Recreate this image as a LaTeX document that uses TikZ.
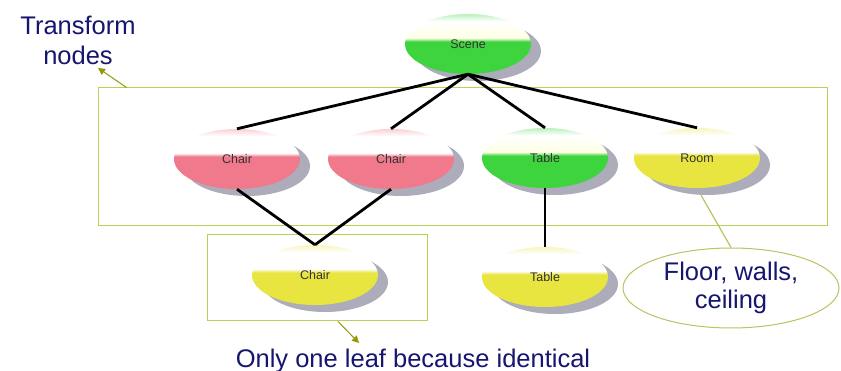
\documentclass[tikz,border=0pt]{standalone}
\usepackage{fontspec}
\setmainfont{Liberation Sans}
\usetikzlibrary{shapes.geometric,shadows,arrows.meta}

\definecolor{ovpink}{RGB}{240,122,140}
\definecolor{ovgreen}{RGB}{62,212,62}
\definecolor{ovyellow}{RGB}{232,228,64}
\definecolor{boxgreen}{RGB}{182,212,84}
\definecolor{notenavy}{RGB}{22,22,112}
\definecolor{pointolive}{RGB}{150,150,10}
\definecolor{calloutedge}{RGB}{192,192,96}
\definecolor{shadowgrey}{RGB}{172,172,186}

\pgfdeclareverticalshading{pinkoval}{100bp}{color(0bp)=(ovpink); color(52bp)=(ovpink); color(55bp)=(white); color(69bp)=(white); color(75bp)=(ovpink!35); color(100bp)=(ovpink!35)}
\pgfdeclareverticalshading{greenoval}{100bp}{color(0bp)=(ovgreen); color(52bp)=(ovgreen); color(55bp)=(white!90!yellow); color(69bp)=(white); color(75bp)=(ovgreen!35); color(100bp)=(ovgreen!35)}
\pgfdeclareverticalshading{yellowoval}{100bp}{color(0bp)=(ovyellow); color(52bp)=(ovyellow); color(55bp)=(white); color(69bp)=(white); color(75bp)=(ovyellow!35); color(100bp)=(ovyellow!35)}

\tikzset{
  oval/.style={ellipse, minimum width=126pt, minimum height=60pt, inner sep=0pt,
    font=\fontsize{12.5}{14}\selectfont, text=black!80,
    drop shadow={shadow xshift=10pt, shadow yshift=-7pt, fill=shadowgrey, opacity=1}},
  pinkoval/.style={oval, shading=pinkoval},
  greenoval/.style={oval, shading=greenoval},
  yellowoval/.style={oval, shading=yellowoval},
  link/.style={line width=2.8pt, black},
  groupbox/.style={draw=boxgreen, line width=1pt, inner sep=0pt},
  note/.style={text=notenavy, font=\fontsize{25.5}{30}\selectfont, align=center},
  pointer/.style={draw=pointolive, line width=1pt, -{Triangle[width=7pt,length=7pt]}},
  callline/.style={draw=calloutedge, line width=1.2pt}
}

\begin{document}
\begin{tikzpicture}[x=1pt, y=-1pt]
    \useasboundingbox[fill=white] (0,0) rectangle (841,371);
    % group frames
    \node[groupbox, minimum width=729pt, minimum height=138pt] (tbox) at (462.5,157) {};
    \node[groupbox, minimum width=220pt, minimum height=86pt] (lbox) at (317,278) {};
    % scene graph
    \node[greenoval] (scene) at (468,44) {Scene};
    \node[pinkoval] (chairA) at (237,159) {Chair};
    \node[pinkoval] (chairB) at (391,159) {Chair};
    \node[greenoval] (table) at (545,158) {Table};
    \node[yellowoval] (room) at (697,158) {Room};
    \node[yellowoval] (leafchair) at (315,275) {Chair};
    \node[yellowoval] (leaftable) at (545,277) {Table};
    \foreach \k in {chairA,chairB,table,room}
    {
      \draw[link] (scene.south) -- (\k.north);
    }
    \draw[link] (chairA.south) -- (leafchair.north);
    \draw[link] (chairB.south) -- (leafchair.north);
    \draw[link] (table.south) -- (leaftable.north);
    % notes
    \node[note] (tflabel) at (78,40) {Transform\\nodes};
    \coordinate (tftip) at (98,68);
    \draw[pointer] ([xshift=29pt]tbox.north west) -- (tftip);
    \node[note, anchor=base] (leaflabel) at (413,367) {Only one leaf because identical};
    \coordinate (leaftip) at (359,343);
    \draw[pointer] ([xshift=21pt]lbox.south) -- (leaftip);
    \node[ellipse, draw=calloutedge, line width=1pt, fill=white, minimum width=216pt, minimum height=80pt,
      inner sep=0pt, text=notenavy, font=\fontsize{25.5}{28}\selectfont, align=center] (floor) at (731,288) {Floor, walls,\\ceiling};
    \draw[callline, shorten <=8pt] (room.south) -- (floor.north);
\end{tikzpicture}
\end{document}
